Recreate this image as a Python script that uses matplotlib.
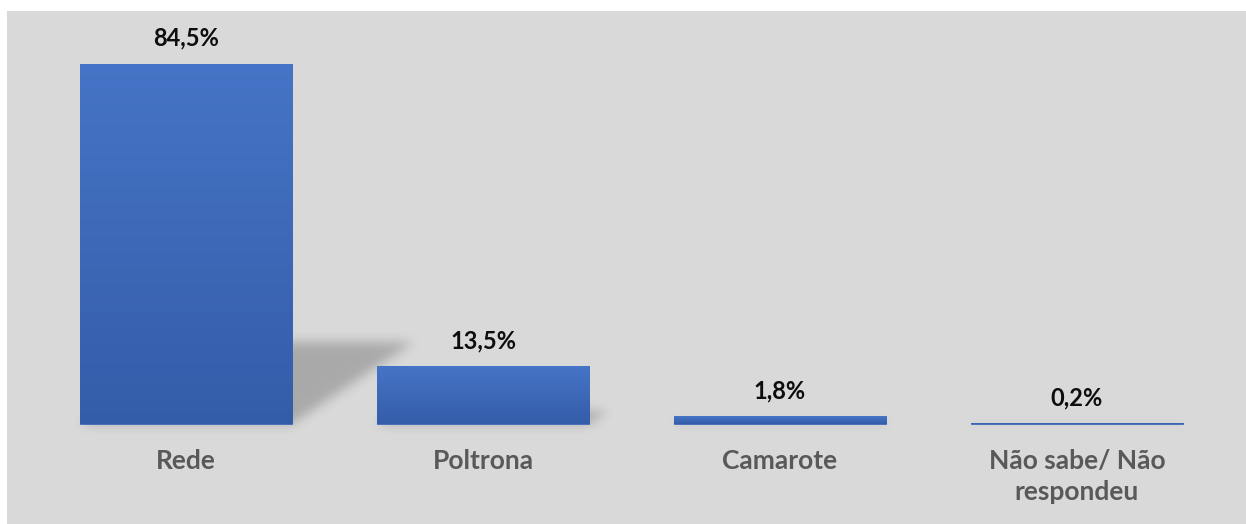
#!/usr/bin/env python3
"""Preferred place to travel on the boat - share of respondents per option.

Excel-style column chart: gradient blue columns on a light grey panel, bold
percentage labels above each column, and a soft perspective shadow cast to
the upper right of every column.
"""
from __future__ import annotations

import matplotlib
matplotlib.use("Agg")
import matplotlib.pyplot as plt  # noqa: E402
import numpy as np  # noqa: E402
from matplotlib.colors import LinearSegmentedColormap  # noqa: E402
from matplotlib.patches import Rectangle  # noqa: E402
from matplotlib.path import Path  # noqa: E402

CATEGORIES = ["Rede", "Poltrona", "Camarote", "Não sabe/ Não\nrespondeu"]
SHARES = [84.5, 13.5, 1.8, 0.2]
VALUE_LABELS = ["84,5%", "13,5%", "1,8%", "0,2%"]

W_PX, H_PX, DPI = 1246, 524, 100
BAR_WIDTH = 0.714
PANEL = "#d9d9d9"
BAR_TOP, BAR_BOTTOM = "#4674c6", "#345da9"
BAR_EDGE = "#3f69b8"

# perspective shadow: offset per unit of column height (x in slots, y in %)
SHADOW_DX = 0.41 / 84.5
SHADOW_DY = 0.228
SHADOW_ALPHA = 0.22
SHADOW_BLUR_PX = 5.5


def gaussian_blur(img: np.ndarray, sigma: float) -> np.ndarray:
    """Separable gaussian blur, plain numpy."""
    r = int(3 * sigma)
    k = np.exp(-0.5 * (np.arange(-r, r + 1) / sigma) ** 2)
    k /= k.sum()
    out = np.apply_along_axis(lambda v: np.convolve(v, k, mode="same"), 0, img)
    out = np.apply_along_axis(lambda v: np.convolve(v, k, mode="same"), 1, out)
    return out


def draw_shadows(ax, xs, heights):
    x0, x1 = ax.get_xlim()
    y0, y1 = ax.get_ylim()
    gx = np.linspace(x0, x1, W_PX)
    gy = np.linspace(y1, y0, H_PX)
    X, Y = np.meshgrid(gx, gy)
    pts = np.column_stack([X.ravel(), Y.ravel()])
    mask = np.zeros(X.size)
    for x, h in zip(xs, heights):
        left, right = x - BAR_WIDTH / 2, x + BAR_WIDTH / 2
        dx, dy = h * SHADOW_DX, h * SHADOW_DY
        quad = Path([(left, 0), (right, 0), (right + dx, dy),
                     (left + dx, dy), (left, 0)])
        mask = np.maximum(mask, quad.contains_points(pts))
    mask = gaussian_blur(mask.reshape(X.shape), SHADOW_BLUR_PX)
    rgba = np.zeros(X.shape + (4,))
    rgba[..., 3] = mask * SHADOW_ALPHA
    ax.imshow(rgba, extent=(x0, x1, y0, y1), aspect="auto", zorder=1,
              interpolation="bilinear")


def draw_gradient_bars(ax, xs, heights):
    cmap = LinearSegmentedColormap.from_list("bar", [BAR_BOTTOM, BAR_TOP])
    grad = np.linspace(1, 0, 256).reshape(-1, 1)
    # thin edge keeps the near-zero column visible as a blue hairline
    bars = ax.bar(xs, heights, width=BAR_WIDTH, color=BAR_TOP, zorder=2,
                  edgecolor=BAR_EDGE, linewidth=0.6)
    for bar in bars:
        x, y = bar.get_x(), bar.get_y()
        w, h = bar.get_width(), bar.get_height()
        im = ax.imshow(grad, extent=(x, x + w, y, y + h), cmap=cmap,
                       vmin=0, vmax=1, aspect="auto", zorder=3)
        im.set_clip_path(bar)
    return bars


def main() -> int:
    plt.rcParams["font.family"] = ["Lato", "DejaVu Sans"]

    fig = plt.figure(figsize=(W_PX / DPI, H_PX / DPI), dpi=DPI)
    fig.patch.set_facecolor("white")
    fig.patches.append(Rectangle((7 / W_PX, 0), 1, (H_PX - 11) / H_PX,
                                 transform=fig.transFigure, facecolor=PANEL,
                                 edgecolor="none", zorder=-10))

    ax = fig.add_axes([0, 0, 1, 1])
    ax.set_facecolor("none")
    ax.set_axis_off()

    # column centre of slot 0 at 186 px, slot pitch 297 px, baseline 424 px
    px_per_slot, px_per_pct = 297.0, 360.0 / 84.5
    xlim = (-186 / px_per_slot, (W_PX - 186) / px_per_slot)
    ylim = (-(H_PX - 424) / px_per_pct, 424 / px_per_pct)
    ax.set_xlim(*xlim)
    ax.set_ylim(*ylim)

    xs = np.arange(len(CATEGORIES))
    draw_shadows(ax, xs, SHARES)
    draw_gradient_bars(ax, xs, SHARES)
    ax.set_xlim(*xlim)
    ax.set_ylim(*ylim)

    for x, v, lab in zip(xs, SHARES, VALUE_LABELS):
        ax.annotate(lab, (x, v), xytext=(0, 18.5), textcoords="offset points",
                    ha="center", va="center", fontsize=17,
                    fontweight="bold", color="#0d0d0d", zorder=4)

    for x, cat in zip(xs, CATEGORIES):
        ax.annotate(cat, (x, 0), xytext=(0, -18), textcoords="offset points",
                    ha="center", va="top", fontsize=19, fontweight="bold",
                    color="#595959", linespacing=1.35, zorder=4)

    fig.savefig("out.png", dpi=DPI, facecolor=fig.get_facecolor())
    plt.close(fig)
    return 0


if __name__ == "__main__":
    raise SystemExit(main())
